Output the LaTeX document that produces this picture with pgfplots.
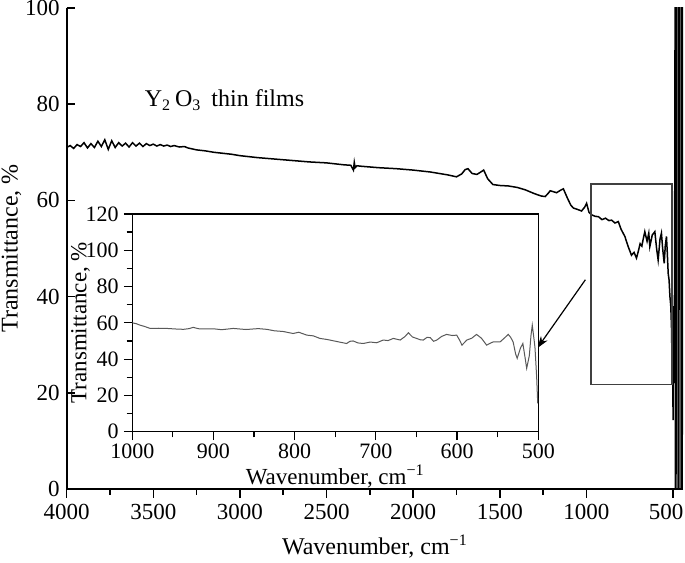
\documentclass[border=0pt]{standalone}
\usepackage{fontspec}
\setmainfont{Liberation Serif}
\usepackage{pgfplots}
\pgfplotsset{compat=1.18}
\usetikzlibrary{arrows.meta}

\begin{document}
\begin{tikzpicture}
% main spectrum
\begin{axis}[
    name=main,
    at={(0,0)}, anchor=south west,
    scale only axis,
    width=308.2pt, height=240.5pt,
    x dir=reverse,
    xmin=442, xmax=4000,
    ymin=0, ymax=100,
    xtick={1000,1500,...,4000},
    extra x ticks={500},
    extra x tick style={xticklabel style={xshift=-3.5pt}},
    ytick={0,20,...,100},
    minor x tick num=1,
    axis x line=bottom, axis y line=left,
    axis line style={-, line width=1pt},
    xtick align=outside, ytick align=inside,
    tick style={black, line width=0.8pt},
    /pgf/number format/assume math mode=true,
    scaled x ticks=false,
    xticklabel={\pgfmathprintnumber[fixed,1000 sep={}]{\tick}},
    tick label style={font=\fontsize{11.5}{13}\selectfont},
    label style={font=\fontsize{12}{14}\selectfont},
    xlabel={Wavenumber, cm\textsuperscript{−1}},
    xlabel style={at={(rel axis cs:0.5,0)}, anchor=north, yshift=-19.5pt},
    ylabel={Transmittance, \%},
    ylabel style={yshift=-5pt},
    clip=true,
]
\addplot[black, line width=0.75pt] coordinates {
(4000,71.0) (3980,71.4) (3960,70.8) (3940,71.6) (3920,71.2) (3900,72.0)
(3880,70.9) (3860,71.8) (3840,71.0) (3820,72.3) (3800,71.2) (3780,72.6)
(3760,70.6) (3740,72.4) (3720,71.0) (3700,72.0) (3680,71.3) (3660,71.9)
(3640,71.1) (3620,72.0) (3600,71.3) (3580,71.9) (3560,71.2) (3540,71.8)
(3520,71.4) (3500,71.7) (3480,71.3) (3460,71.6) (3440,71.3) (3420,71.5)
(3400,71.2) (3380,71.4) (3350,71.1) (3320,71.2) (3300,70.9) (3250,70.5)
(3200,70.3) (3150,70.0) (3100,69.8) (3050,69.6) (3000,69.3) (2950,69.1)
(2900,68.9) (2800,68.6) (2700,68.3) (2600,68.0) (2500,67.8) (2450,67.6)
(2400,67.4) (2360,67.3) (2345,66.3) (2340,67.9) (2335,66.8) (2325,67.2)
(2300,67.1) (2200,66.8) (2100,66.6) (2000,66.3) (1900,65.9) (1800,65.3)
(1750,64.9) (1720,65.5) (1700,66.4) (1684,66.6) (1660,65.6) (1632,65.4)
(1610,65.9) (1593,66.3) (1570,64.5) (1540,63.3) (1500,63.1) (1450,63.0)
(1400,62.7) (1353,62.2) (1300,61.4) (1260,60.9) (1238,60.8) (1220,61.5)
(1209,62.0) (1190,61.8) (1172,61.6) (1150,62.1) (1133,62.4) (1110,60.5)
(1090,59.0) (1075,58.4) (1050,58.1) (1028,57.8) (1010,58.6) (999,59.4)
(985,57.5) (970,57.0) (950,56.7) (930,56.6) (910,56.0) (890,56.3)
(870,55.8) (855,55.9) (835,55.3) (816,55.6) (800,54.0) (778,52.5)
(760,50.5) (740,48.6) (725,49.2) (711,48.0) (700,49.5) (690,51.0)
(680,50.5) (672,52.0) (663,53.5) (650,51.5) (640,53.2) (634,50.4)
(620,52.8) (605,53.5) (595,50.0) (586,47.6) (575,52.0) (567,53.2)
(560,50.0) (551,46.9) (545,50.5) (538,52.5) (533,49.0) (528,44.8)
(523,43.5) (518,40.0) (513,38.0) (509,33.7) (505,25.0) (502,35.0)
(500,14.3) (497,38.0) (494,22.0) (491,45.0)
(488,106) (487,-2) (486,106) (485,-2) (484,106) (483,-2) (482,106)
(471,106) (470,-2) (469,106) (468,-2) (467,106) (466,-2) (465,106)
(454,106) (453,-2) (452,106) (451,-2) (450,106) (449,-2) (448,106) (447,-2) (446,106)
};
\node[anchor=west, font=\fontsize{12}{14}\selectfont] at (axis cs:3590,80.8)
    {Y\textsubscript{2}\,O\textsubscript{3}\, thin films};
\draw[black!75, line width=0.6pt] (axis cs:974,21.8) rectangle (axis cs:506,63.4);
\draw[-{Stealth[length=6pt,width=4pt]}, line width=0.6pt] (axis cs:1006,43.5) -- (axis cs:1283,29.3);
\end{axis}

% inset
\begin{axis}[
    at={(32.8pt,28.65pt)}, anchor=south west,
    scale only axis,
    width=203pt, height=108.9pt,
    axis background/.style={fill=white},
    x dir=reverse,
    xmin=500, xmax=1000,
    ymin=0, ymax=120,
    xtick={500,600,...,1000},
    ytick={0,20,...,120},
    minor x tick num=1, minor y tick num=1,
    tick align=outside,
    xtick pos=left, ytick pos=left,
    axis line style={line width=0.6pt},
    tick style={black, line width=0.6pt},
    /pgf/number format/assume math mode=true,
    scaled x ticks=false,
    xticklabel={\pgfmathprintnumber[fixed,1000 sep={}]{\tick}},
    tick label style={font=\fontsize{11}{12}\selectfont},
    label style={font=\fontsize{11.5}{13}\selectfont},
    xticklabel style={yshift=1.5pt},
    yticklabel style={xshift=1pt},
    xlabel={Wavenumber, cm\textsuperscript{−1}},
    ylabel={Transmittance, \%},
    xlabel style={yshift=4pt},
    ylabel style={yshift=-9pt},
]
\addplot[black!65, line width=0.5pt] coordinates {
(1000,60.0) (995,59.5) (990.5,58.7) (985,58.0) (978,56.9) (968,57.0)
(957.6,56.9) (947,56.6) (937,56.4) (930,56.8) (925,57.5) (920,56.9)
(916.6,56.6) (900,56.7) (890,56.2) (875.6,56.9) (860,56.3) (845,56.8)
(834.5,56.4) (825,55.6) (814,55.2) (802,54.1) (795,54.8) (785,53.2)
(777,52.8) (769,51.4) (760,50.8) (752.5,50.1) (745,49.4) (736,48.6)
(732,49.8) (728,50.0) (722,48.9) (715.5,48.6) (707,49.4) (699,49.0)
(691,50.5) (685,50.2) (678.6,51.4) (670,50.5) (664,52.5) (660,54.5)
(655,52.2) (650,51.4) (645,50.6) (641.6,50.5) (637,52.0) (633,51.8)
(629,49.8) (625,50.5) (619,52.5) (613,53.6) (606,53.0) (600.5,53.2)
(597,50.5) (594,47.7) (588,50.5) (582,51.5) (576,53.6) (570,51.5)
(563.6,47.7) (558,49.0) (555.4,49.5) (547,49.5) (542,51.5) (537,53.6)
(534,52.0) (531,49.5) (528,43.0) (526,40.4) (522,46.0) (519,48.6)
(516,40.0) (514.3,34.9) (511,42.0) (509,53.0) (507.4,58.7) (505,50.0)
(504,45.9) (502,30.0) (500.7,15.6)
};
\end{axis}

\pgfresetboundingbox
\path[use as bounding box] (-33.35pt,-36.5pt) rectangle (309.15pt,244.5pt);
\end{tikzpicture}
\end{document}
